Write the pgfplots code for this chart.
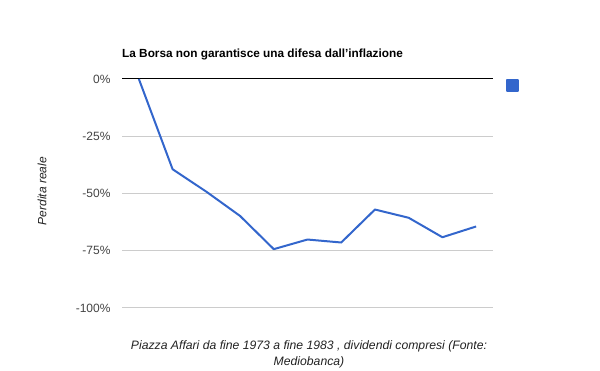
\documentclass[border=0pt]{standalone}
\usepackage{pgfplots}
\pgfplotsset{compat=1.18}
\usepackage{fontspec}
\setmainfont{Liberation Sans}
\definecolor{lineblue}{HTML}{3366CC}
\definecolor{gridgray}{HTML}{CCCCCC}
\definecolor{ticktext}{HTML}{444444}
\definecolor{labtext}{HTML}{222222}
\begin{document}
\begin{tikzpicture}
\path[use as bounding box] (0,0) rectangle (600bp,371bp);
\begin{axis}[
  at={(122bp,63bp)}, anchor=south west,
  width=371bp, height=229bp, scale only axis,
  xmin=-0.5, xmax=10.5, ymin=-100, ymax=0,
  axis line style={draw=none},
  xtick=\empty,
  ytick={-100,-75,-50,-25},
  yticklabels={-100\%,-75\%,-50\%,-25\%},
  extra y ticks={0}, extra y tick labels={0\%},
  extra y tick style={grid style={black, line width=1bp}},
  ymajorgrids, grid style={gridgray, line width=1bp},
  major tick length=0pt,
  tick label style={font=\fontsize{12bp}{14bp}\selectfont, text=ticktext},
  yticklabel style={xshift=-8bp},
  clip=false,
  legend style={at={(1,1)}, anchor=north west, xshift=13bp, yshift=0bp, draw=none, fill=none, inner sep=0pt, outer sep=0pt, font=\fontsize{11bp}{11bp}\selectfont},
  legend image code/.code={\fill[lineblue] (0bp,-5.5bp) rectangle (11bp,5.5bp);},
]
\addplot[lineblue, line width=2bp, line join=round] coordinates {
(0,0) (1,-39.4) (2,-49.2) (3,-59.8) (4,-74.3) (5,-70.1) (6,-71.4) (7,-57.0) (8,-60.6) (9,-69.1) (10,-64.4)
};
\addlegendentry{\strut}
\end{axis}
\node[anchor=base west, inner sep=0pt, font=\bfseries\fontsize{11.8bp}{13bp}\selectfont] at (122bp,313bp) {La Borsa non garantisce una difesa dall'inflazione};
\node[rotate=90, anchor=center, font=\itshape\fontsize{12bp}{14bp}\selectfont, text=labtext] at (42bp,180bp) {Perdita reale};
\node[anchor=base, align=center, inner sep=0pt, font=\itshape\fontsize{12.2bp}{16bp}\selectfont, text=labtext] at (309bp,6bp) {Piazza Affari da fine 1973 a fine 1983 , dividendi compresi (Fonte:\\Mediobanca)};
\end{tikzpicture}
\end{document}
